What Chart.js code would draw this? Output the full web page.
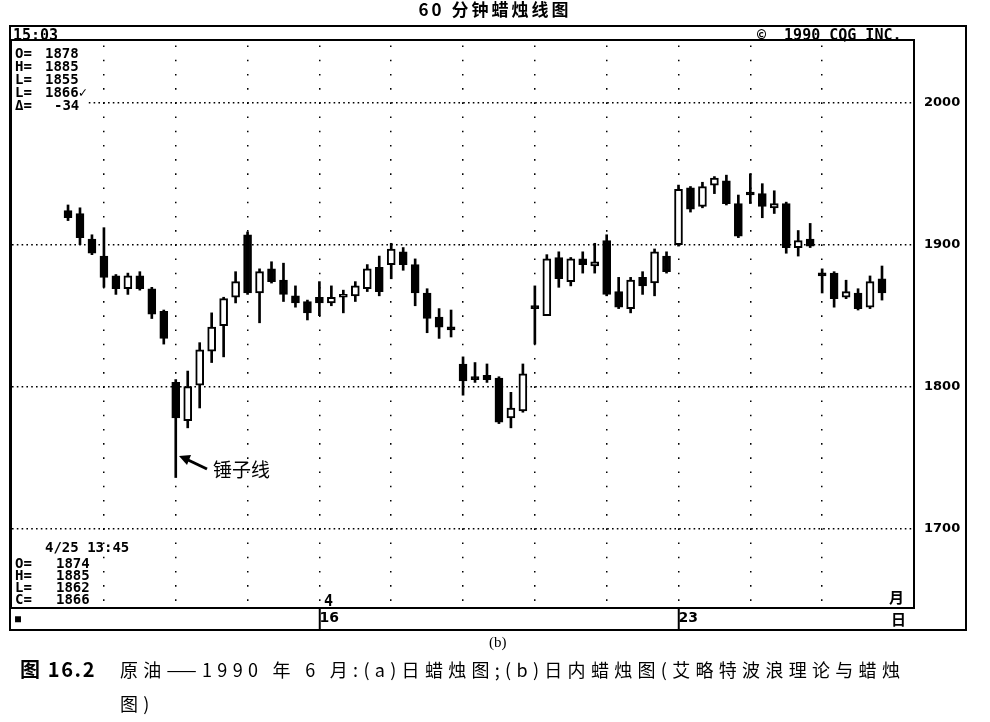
<!DOCTYPE html>
<html>
<head>
<meta charset="utf-8">
<script src="https://cdn.jsdelivr.net/npm/chart.js@4.4.1/dist/chart.umd.min.js"></script>
<style>
  body { margin: 0; background: #fff; }
  #wrap { position: relative; width: 990px; height: 722px; overflow: hidden; }
  canvas { position: absolute; left: 0; top: 0; }
  .box { position: absolute; border: 2px solid #000; box-sizing: border-box; }
  .t { position: absolute; white-space: pre; color: #000; line-height: 1; }
  .crt { font: bold 14px "DejaVu Sans Mono", monospace; }
  .cjk { font-family: "Noto Sans CJK SC", sans-serif; }
</style>
</head>
<body>
<div id="wrap">
  <canvas id="candles" width="990" height="722"></canvas>

  <!-- frames -->
  <div class="box" style="left:9px;top:25px;width:958px;height:606px;"></div>
  <div class="box" style="left:10px;top:39px;width:905px;height:570px;"></div>

  <!-- title -->
  <div class="t cjk" style="left:0;width:990px;top:0;text-align:center;font-size:17px;font-weight:bold;letter-spacing:3px;">60 分钟蜡烛线图</div>

  <!-- header bar -->
  <div class="t crt" style="left:13px;top:26px;font-size:15px;">15:03</div>
  <div class="t crt" style="left:757px;top:26px;font-size:15px;">©  1990 CQG INC.</div>

  <!-- top-left quote box -->
  <div class="t crt" style="left:12px;top:42px;width:74px;height:67px;background:#fff;"></div>
  <div class="t crt" style="left:15px;top:45px;">O=</div><div class="t crt" style="left:45px;top:45px;">1878</div>
  <div class="t crt" style="left:15px;top:58px;">H=</div><div class="t crt" style="left:45px;top:58px;">1885</div>
  <div class="t crt" style="left:15px;top:71px;">L=</div><div class="t crt" style="left:45px;top:71px;">1855</div>
  <div class="t crt" style="left:15px;top:84px;">L=</div><div class="t crt" style="left:45px;top:84px;">1866✓</div>
  <div class="t crt" style="left:15px;top:97px;">Δ=</div><div class="t crt" style="left:54px;top:97px;">-34</div>

  <!-- bottom-left quote box -->
  <div class="t crt" style="left:12px;top:538px;width:80px;height:68px;background:#fff;"></div>
  <div class="t crt" style="left:45px;top:539px;">4/25 13:45</div>
  <div class="t crt" style="left:15px;top:555px;">O=</div><div class="t crt" style="left:56px;top:555px;">1874</div>
  <div class="t crt" style="left:15px;top:567px;">H=</div><div class="t crt" style="left:56px;top:567px;">1885</div>
  <div class="t crt" style="left:15px;top:579px;">L=</div><div class="t crt" style="left:56px;top:579px;">1862</div>
  <div class="t crt" style="left:15px;top:591px;">C=</div><div class="t crt" style="left:56px;top:591px;">1866</div>

  <!-- month / day marks -->
  <div class="t crt" style="left:324px;top:592px;font-size:15px;">4</div>
  <div class="t cjk" style="left:889px;top:589px;font-size:15px;font-weight:bold;">月</div>
  <div class="t crt" style="left:15px;top:613px;font-size:10px;">■</div>
  <div class="t cjk" style="left:891px;top:611px;font-size:15px;font-weight:bold;">日</div>

  <!-- hammer annotation -->
  <svg style="position:absolute;left:0;top:0;" width="990" height="722">
    <line x1="207" y1="469" x2="186" y2="459" stroke="#000" stroke-width="3"/>
    <polygon points="179,456 191,455 187,465" fill="#000"/>
  </svg>
  <div class="t cjk" style="left:213px;top:459px;font-size:19px;">锤子线</div>

  <!-- caption -->
  <div class="t" style="left:489px;top:634px;font:15px 'Liberation Serif',serif;">(b)</div>
  <div class="t cjk" style="left:20px;top:659px;font-size:20px;font-weight:bold;letter-spacing:1.6px;">图 16.2</div>
  <div class="t cjk" style="left:120px;top:660px;font-size:18px;letter-spacing:5.3px;">原油——1990 年 6 月:(a)日蜡烛图;(b)日内蜡烛图(艾略特波浪理论与蜡烛</div>
  <div class="t cjk" style="left:120px;top:694px;font-size:18px;letter-spacing:5.3px;">图)</div>
</div>

<script>
// 60-minute crude oil bars, June 1990
const openVals = [1924, 1922, 1904, 1892, 1878, 1869, 1878, 1869, 1853, 1803,
  1776, 1801, 1825, 1843, 1863, 1907, 1866, 1883, 1875, 1864,
  1860, 1863, 1859, 1863, 1864, 1869, 1884, 1886, 1895, 1886,
  1866, 1849, 1842, 1816, 1807, 1808, 1806, 1778, 1783, 1857,
  1850, 1891, 1874, 1890, 1885, 1903, 1867, 1855, 1877, 1873,
  1892, 1900, 1940, 1927, 1942, 1945, 1929, 1937, 1936, 1926,
  1929, 1898, 1904, 1880, 1880, 1863, 1866, 1856, 1876];
const highVals = [1928, 1926, 1907, 1912, 1879, 1880, 1881, 1870, 1854, 1805,
  1811, 1831, 1852, 1863, 1881, 1909, 1883, 1888, 1887, 1871,
  1861, 1874, 1871, 1868, 1874, 1886, 1892, 1901, 1898, 1890,
  1869, 1855, 1854, 1821, 1817, 1816, 1807, 1796, 1816, 1871,
  1893, 1895, 1891, 1895, 1901, 1907, 1877, 1877, 1881, 1897,
  1895, 1942, 1941, 1944, 1948, 1949, 1935, 1950, 1943, 1938,
  1930, 1910, 1915, 1883, 1881, 1875, 1869, 1878, 1885];
const lowVals = [1917, 1900, 1893, 1870, 1865, 1865, 1868, 1848, 1830, 1736,
  1771, 1785, 1817, 1821, 1859, 1865, 1845, 1873, 1860, 1856,
  1847, 1850, 1857, 1852, 1860, 1867, 1864, 1876, 1882, 1857,
  1838, 1834, 1835, 1794, 1803, 1803, 1774, 1771, 1782, 1830,
  1850, 1870, 1871, 1880, 1880, 1864, 1855, 1852, 1865, 1864,
  1880, 1899, 1923, 1926, 1936, 1928, 1905, 1929, 1919, 1922,
  1894, 1892, 1898, 1866, 1856, 1862, 1854, 1855, 1861];
const closeVals = [1919, 1905, 1894, 1877, 1869, 1878, 1869, 1851, 1834, 1778,
  1800, 1826, 1842, 1862, 1874, 1866, 1881, 1874, 1865, 1859,
  1852, 1859, 1863, 1864, 1871, 1883, 1867, 1897, 1886, 1866,
  1848, 1842, 1840, 1804, 1805, 1805, 1775, 1785, 1809, 1855,
  1890, 1876, 1890, 1886, 1888, 1865, 1856, 1875, 1871, 1895,
  1881, 1939, 1925, 1941, 1947, 1929, 1906, 1935, 1927, 1929,
  1898, 1903, 1899, 1878, 1862, 1867, 1855, 1874, 1866];

// price gridlines and labels
const priceTicks = [1700, 1800, 1900, 2000];
// session boundaries (bar index) and day labels under them
const sessionStarts = [3, 9, 15, 21, 27, 33, 39, 45, 51, 57, 63];
const dayLabels = { 21: '16', 51: '23' };

const wicks = lowVals.map((lo, i) => ({ x: i, y: [lo, highVals[i]] }));
const bodies = openVals.map((o, i) => ({ x: i, y: [o, closeVals[i]] }));
const bodyFill = openVals.map((o, i) => closeVals[i] >= o ? '#fff' : '#000');

new Chart(document.getElementById('candles'), {
  type: 'bar',
  data: {
    datasets: [
      {
        data: bodies,
        backgroundColor: bodyFill,
        borderColor: '#000',
        borderWidth: 2,
        borderSkipped: false,
        barThickness: 8,
        minBarLength: 3,
        grouped: false,
        order: 1
      },
      {
        data: wicks,
        backgroundColor: '#000',
        borderWidth: 0,
        barThickness: 2,
        grouped: false,
        order: 2
      }
    ]
  },
  options: {
    responsive: false,
    animation: false,
    events: [],
    layout: { padding: { left: 12, top: 41, right: 24, bottom: 93 } },
    plugins: { legend: { display: false }, tooltip: { enabled: false } },
    scales: {
      x: {
        type: 'linear',
        min: -4.68,
        max: 70.59,
        offset: false,
        afterBuildTicks: s => { s.ticks = sessionStarts.map(v => ({ value: v })); },
        afterFit: s => { s.height = 22; },
        grid: {
          offset: false,
          color: '#000',
          lineWidth: 1.5,
          tickLength: 22,
          tickWidth: 2,
          tickBorderDash: [],
          tickColor: c => (dayLabels[c.tick && c.tick.value] ? '#000' : 'rgba(0,0,0,0)')
        },
        border: { display: false, dash: [1.6, 12.6], dashOffset: 9.7 },
        ticks: {
          autoSkip: false,
          maxRotation: 0,
          align: 'start',
          padding: -19,
          color: '#000',
          font: { family: 'DejaVu Sans', weight: 'bold', size: 14 },
          callback: v => dayLabels[v] || ''
        }
      },
      y: {
        position: 'right',
        min: 1644.8,
        max: 2043.5,
        beginAtZero: false,
        afterBuildTicks: s => { s.ticks = priceTicks.map(v => ({ value: v })); },
        afterFit: s => { s.width = 53; },
        grid: { color: '#000', lineWidth: 1.5, drawTicks: false },
        border: { display: false, dash: [1.6, 3.2] },
        ticks: {
          padding: 11,
          color: '#000',
          font: { family: 'DejaVu Sans', weight: 'bold', size: 13 },
          callback: v => String(v)
        }
      }
    }
  }
});
</script>
</body>
</html>
